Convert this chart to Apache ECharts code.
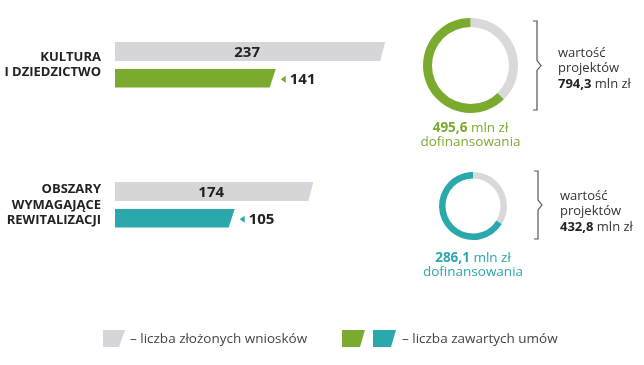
<!DOCTYPE html>
<html><head><meta charset="utf-8">
<script src="https://cdn.jsdelivr.net/npm/echarts@6/dist/echarts.min.js"></script>
<style>html,body{margin:0;padding:0;background:#fff}#c{width:644px;height:365px}</style>
</head><body><div id="c"></div>
<script>
const categories = ['KULTURA\nI DZIEDZICTWO', 'OBSZARY\nWYMAGAJĄCE\nREWITALIZACJI'];
const submitted = [237, 174];
const signed = [141, 105];
const cofinancing = [495.6, 286.1];
const projectValue = [794.3, 432.8];
const signedColors = ['#7aab2f', '#2aa8ac'];
const greyColor = '#d4d6da';
const ringGrey = '#d9d9d9';
const legendLabels = ['– liczba złożonych wniosków', '– liczba zawartych umów'];

const FONT = '"Open Sans", "Noto Sans", sans-serif';
const fmt = v => v.toFixed(1).replace('.', ',');

const chart = echarts.init(document.getElementById('c'), null, {renderer: 'canvas'});

function barItem(kind) {
  return function (params, api) {
    const v = api.value(0), c = api.value(1);
    const p0 = api.coord([0, c]), p1 = api.coord([v, c]);
    const cy = p0[1], x0 = p0[0], x1 = p1[0];
    if (kind === 'submitted') {
      const top = cy - 23, bot = cy - 4;
      return {type: 'group', children: [
        {type: 'polygon', shape: {points: [[x0, top], [x1, top], [x1 - 5, bot], [x0, bot]]}, style: {fill: greyColor}},
        {type: 'text', style: {text: String(v), x: (x0 + x1) / 2 - 3, y: (top + bot) / 2 + 1, align: 'center', verticalAlign: 'middle', font: 'bold 15px ' + FONT, fill: '#222'}}
      ]};
    } else {
      const top = cy + 4, bot = cy + 22.5, col = signedColors[params.dataIndex];
      const my = (top + bot) / 2 + 1;
      return {type: 'group', children: [
        {type: 'polygon', shape: {points: [[x0, top], [x1, top], [x1 - 6, bot], [x0, bot]]}, style: {fill: col}},
        {type: 'polygon', shape: {points: [[x1 + 5, my], [x1 + 10, my - 3.5], [x1 + 10, my + 3.5]]}, style: {fill: col}},
        {type: 'text', style: {text: String(v), x: x1 + 14, y: my, align: 'left', verticalAlign: 'middle', font: 'bold 15px ' + FONT, fill: '#222'}}
      ]};
    }
  };
}

const donutCenters = [[470.5, 65.5], [473, 206]];
const donutRadii = [[38.5, 47.5], [27.5, 34]];
const bracketX = [537, 538];
const bracketY = [[21, 110], [171, 239]];
const sideTextX = [558, 560];
const sideTextY = [53, 196];
const underTextY = [128.5, 258];

const series = [
  {type: 'custom', name: 'submitted', renderItem: barItem('submitted'), clip: false,
   data: submitted.map((v, i) => [v, i]), encode: {x: 0, y: 1}, silent: true},
  {type: 'custom', name: 'signed', renderItem: barItem('signed'), clip: false,
   data: signed.map((v, i) => [v, i]), encode: {x: 0, y: 1}, silent: true}
];
cofinancing.forEach((v, i) => {
  series.push({
    type: 'pie', center: donutCenters[i], radius: donutRadii[i], startAngle: 90, clockwise: true,
    label: {show: false}, labelLine: {show: false}, silent: true, animation: false,
    data: [
      {value: projectValue[i] - v, itemStyle: {color: ringGrey}},
      {value: v, itemStyle: {color: signedColors[i]}}
    ]
  });
});

const graphic = [];
for (let i = 0; i < 2; i++) {
  const bx = bracketX[i], [y0, y1] = bracketY[i], ym = (y0 + y1) / 2;
  graphic.push({type: 'polyline', shape: {points: [[bx - 4, y0], [bx, y0], [bx, ym - 5], [bx + 4, ym], [bx, ym + 5], [bx, y1], [bx - 4, y1]]},
    style: {stroke: '#555', lineWidth: 1.2, fill: null}});
  const lh = 15.5;
  graphic.push({type: 'text', x: sideTextX[i], y: sideTextY[i] - lh / 2, style: {
    text: 'wartość\nprojektów\n{b|' + fmt(projectValue[i]) + '} mln zł',
    rich: {b: {font: 'bold 13px ' + FONT, fill: '#222', lineHeight: lh}},
    font: '13px ' + FONT, fill: '#333', lineHeight: lh, verticalAlign: 'top', align: 'left'}});
  const lh2 = 14;
  graphic.push({type: 'text', x: donutCenters[i][0], y: underTextY[i] - lh2 / 2, style: {
    text: '{b|' + fmt(cofinancing[i]) + '} mln zł\ndofinansowania',
    rich: {b: {font: 'bold 13.5px ' + FONT, fill: signedColors[i], lineHeight: lh2}},
    font: '13.5px ' + FONT, fill: signedColors[i], align: 'center', verticalAlign: 'top', lineHeight: lh2}});
}
// legend
graphic.push({type: 'polygon', shape: {points: [[103, 330], [125, 330], [119, 347], [103, 347]]}, style: {fill: greyColor}});
graphic.push({type: 'text', x: 130, y: 339, style: {text: legendLabels[0], font: '13.5px ' + FONT, fill: '#444', verticalAlign: 'middle'}});
graphic.push({type: 'polygon', shape: {points: [[342, 330], [365, 330], [360, 347], [342, 347]]}, style: {fill: signedColors[0]}});
graphic.push({type: 'polygon', shape: {points: [[373, 330], [396, 330], [391, 347], [373, 347]]}, style: {fill: signedColors[1]}});
graphic.push({type: 'text', x: 402, y: 339, style: {text: legendLabels[1], font: '13.5px ' + FONT, fill: '#444', verticalAlign: 'middle'}});

chart.setOption({
  animation: false,
  grid: {left: 115, right: 187, top: 65, bottom: 160},
  xAxis: {type: 'value', min: 0, max: 300, show: false},
  yAxis: {type: 'category', data: categories, inverse: true, boundaryGap: false,
    axisLine: {show: false}, axisTick: {show: false}, splitLine: {show: false},
    axisLabel: {margin: 14, fontFamily: 'Open Sans', fontWeight: 'bold', fontSize: 13, lineHeight: 15.5, color: '#222', padding: [5, 0, 0, 0]}},
  series: series,
  graphic: graphic
});
</script></body></html>
